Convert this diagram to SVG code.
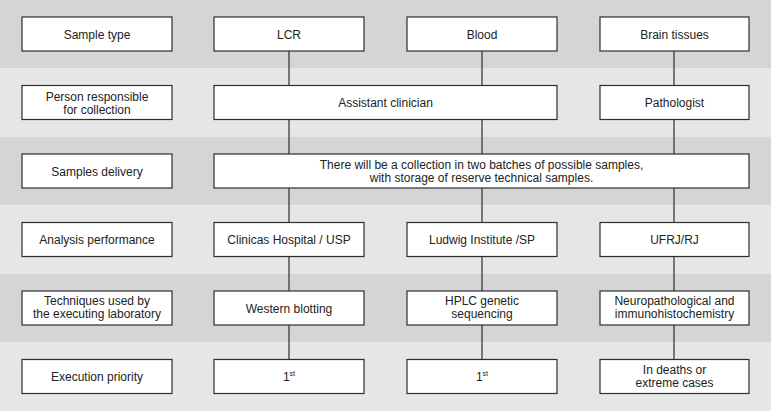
<svg xmlns="http://www.w3.org/2000/svg" width="771" height="411" viewBox="0 0 771 411">
<style>
.bd{fill:#d4d5d7}
.bl{fill:#e6e6e6}
.box{fill:#ffffff;stroke:#2e2e2e;stroke-width:1.2}
.ln{stroke:#2e2e2e;stroke-width:1.2;fill:none}
text{font-family:"Liberation Sans",Arial,sans-serif;font-size:12px;fill:#222;text-anchor:middle}
.sup{font-size:7px}
</style>
<g id="bands">
<rect class="bd" x="0" y="0" width="771" height="68.5"/>
<rect class="bl" x="0" y="68.5" width="771" height="68.5"/>
<rect class="bd" x="0" y="137" width="771" height="68.5"/>
<rect class="bl" x="0" y="205.5" width="771" height="68.5"/>
<rect class="bd" x="0" y="274" width="771" height="68.5"/>
<rect class="bl" x="0" y="342.5" width="771" height="68.5"/>
</g>
<g id="connectors">
<line class="ln" x1="289" y1="51" x2="289" y2="359.5"/>
<line class="ln" x1="482" y1="51" x2="482" y2="359.5"/>
<line class="ln" x1="674" y1="51" x2="674" y2="359.5"/>
</g>
<g id="label-sample-type"><rect class="box" x="22" y="17" width="150" height="34"/><text x="97" y="38.5">Sample type</text></g>
<g id="lcr"><rect class="box" x="214" y="17" width="150" height="34"/><text x="289" y="38.5">LCR</text></g>
<g id="blood"><rect class="box" x="407" y="17" width="150" height="34"/><text x="482" y="38.5">Blood</text></g>
<g id="brain"><rect class="box" x="600" y="17" width="149" height="34"/><text x="674.5" y="38.5">Brain tissues</text></g>

<g id="label-person"><rect class="box" x="22" y="85.5" width="150" height="34"/><text x="97" y="100.5">Person responsible</text><text x="97" y="113.5">for collection</text></g>
<g id="assistant"><rect class="box" x="214" y="85.5" width="343" height="34"/><text x="385.5" y="107">Assistant clinician</text></g>
<g id="pathologist"><rect class="box" x="600" y="85.5" width="149" height="34"/><text x="674.5" y="107">Pathologist</text></g>

<g id="label-delivery"><rect class="box" x="22" y="154" width="150" height="34"/><text x="97" y="175.5">Samples delivery</text></g>
<g id="delivery"><rect class="box" x="214" y="154" width="535" height="34"/><text x="481.5" y="169">There will be a collection in two batches of possible samples,</text><text x="481.5" y="182">with storage of reserve technical samples.</text></g>

<g id="label-analysis"><rect class="box" x="22" y="222.5" width="150" height="34"/><text x="97" y="244">Analysis performance</text></g>
<g id="clinicas"><rect class="box" x="214" y="222.5" width="150" height="34"/><text x="289" y="244">Clinicas Hospital / USP</text></g>
<g id="ludwig"><rect class="box" x="407" y="222.5" width="150" height="34"/><text x="482" y="244">Ludwig Institute /SP</text></g>
<g id="ufrj"><rect class="box" x="600" y="222.5" width="149" height="34"/><text x="674.5" y="244">UFRJ/RJ</text></g>

<g id="label-techniques"><rect class="box" x="22" y="291" width="150" height="34"/><text x="97" y="305">Techniques used by</text><text x="97" y="318">the executing laboratory</text></g>
<g id="western"><rect class="box" x="214" y="291" width="150" height="34"/><text x="289" y="312.5">Western blotting</text></g>
<g id="hplc"><rect class="box" x="407" y="291" width="150" height="34"/><text x="482" y="305">HPLC genetic</text><text x="482" y="318">sequencing</text></g>
<g id="neuro"><rect class="box" x="600" y="291" width="149" height="34"/><text x="674.5" y="305">Neuropathological and</text><text x="674.5" y="318">immunohistochemistry</text></g>

<g id="label-priority"><rect class="box" x="22" y="359.5" width="150" height="34"/><text x="97" y="381">Execution priority</text></g>
<g id="prio-lcr"><rect class="box" x="214" y="359.5" width="150" height="34"/><text x="289" y="381">1<tspan class="sup" dy="-5">st</tspan></text></g>
<g id="prio-blood"><rect class="box" x="407" y="359.5" width="150" height="34"/><text x="482" y="381">1<tspan class="sup" dy="-5">st</tspan></text></g>
<g id="prio-brain"><rect class="box" x="600" y="359.5" width="149" height="34"/><text x="674.5" y="374">In deaths or</text><text x="674.5" y="387">extreme cases</text></g>
</svg>
